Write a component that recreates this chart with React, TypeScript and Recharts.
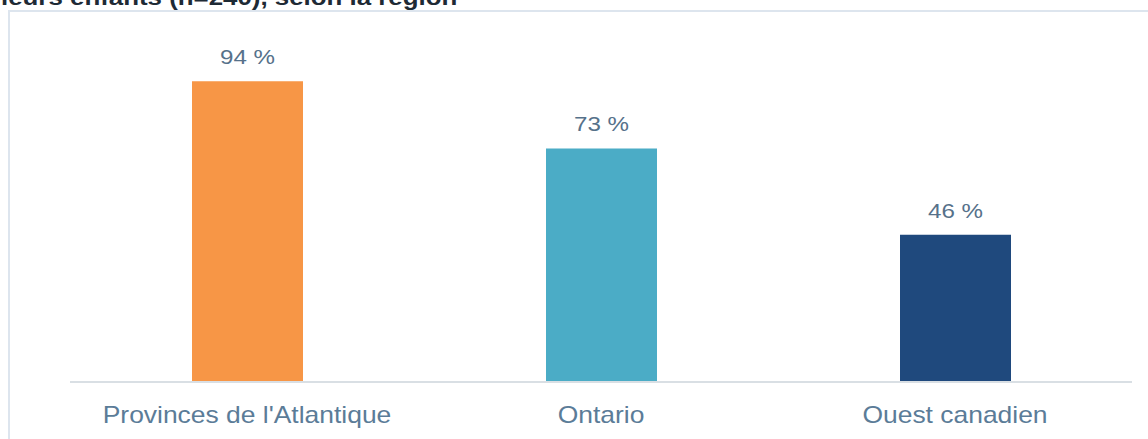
import React from 'react';
import { BarChart, Bar, XAxis, YAxis, Cell, LabelList } from 'recharts';

const categories = ["Provinces de l'Atlantique", 'Ontario', 'Ouest canadien'];
const values = [94, 73, 46];
const colors = ['#F79646', '#4BACC6', '#1F497D'];
const titleText = 'leurs enfants (n=240), selon la région';

const data = categories.map((c, i) => ({ name: c, value: values[i] }));

const SX = 1.15;

const CatTick = (props: any) => {
  const { x, y, payload } = props;
  return (
    <g transform={`translate(${x},${y + 33})`}>
      <text
        transform={`scale(${SX},1)`}
        textAnchor="middle"
        fontFamily="'Liberation Sans', Arial, sans-serif"
        fontSize={23}
        fill="#5b7c98"
      >
        {payload.value}
      </text>
    </g>
  );
};

const ValueLabel = (props: any) => {
  const { x, y, width, value } = props;
  return (
    <g transform={`translate(${x + width / 2},${y - 17})`}>
      <text
        transform={`scale(${SX},1)`}
        textAnchor="middle"
        fontFamily="'Liberation Sans', Arial, sans-serif"
        fontSize={21}
        fill="#56718a"
      >
        {`${value} %`}
      </text>
    </g>
  );
};

export default function App() {
  return (
    <div style={{ position: 'absolute', left: 0, top: 0, width: 1148, height: 439, overflow: 'hidden', background: '#fff' }}>
      <svg width={1148} height={439} style={{ position: 'absolute', left: 0, top: 0 }}>
        <rect x={9} y={11} width={1300} height={600} fill="none" stroke="#dde5ee" strokeWidth={2} />
        <g transform={`translate(1,5) scale(${SX},1)`}>
          <text x={0} y={0} fontFamily="'Liberation Sans', Arial, sans-serif" fontWeight="bold" fontSize={22.5} fill="#1e2a35">
            {titleText}
          </text>
        </g>
      </svg>
      <div style={{ position: 'absolute', left: 0, top: 0 }}>
        <BarChart width={1148} height={439} data={data} margin={{ top: 62, right: 16, bottom: 0, left: 70 }}>
          <XAxis
            dataKey="name"
            axisLine={{ stroke: '#d9dfe4', strokeWidth: 2 }}
            tickLine={false}
            tick={<CatTick />}
            interval={0}
            height={57}
          />
          <YAxis hide domain={[0, 100]} />
          <Bar dataKey="value" barSize={111} isAnimationActive={false}>
            {data.map((d, i) => (
              <Cell key={d.name} fill={colors[i]} />
            ))}
            <LabelList dataKey="value" content={<ValueLabel />} />
          </Bar>
        </BarChart>
      </div>
    </div>
  );
}
